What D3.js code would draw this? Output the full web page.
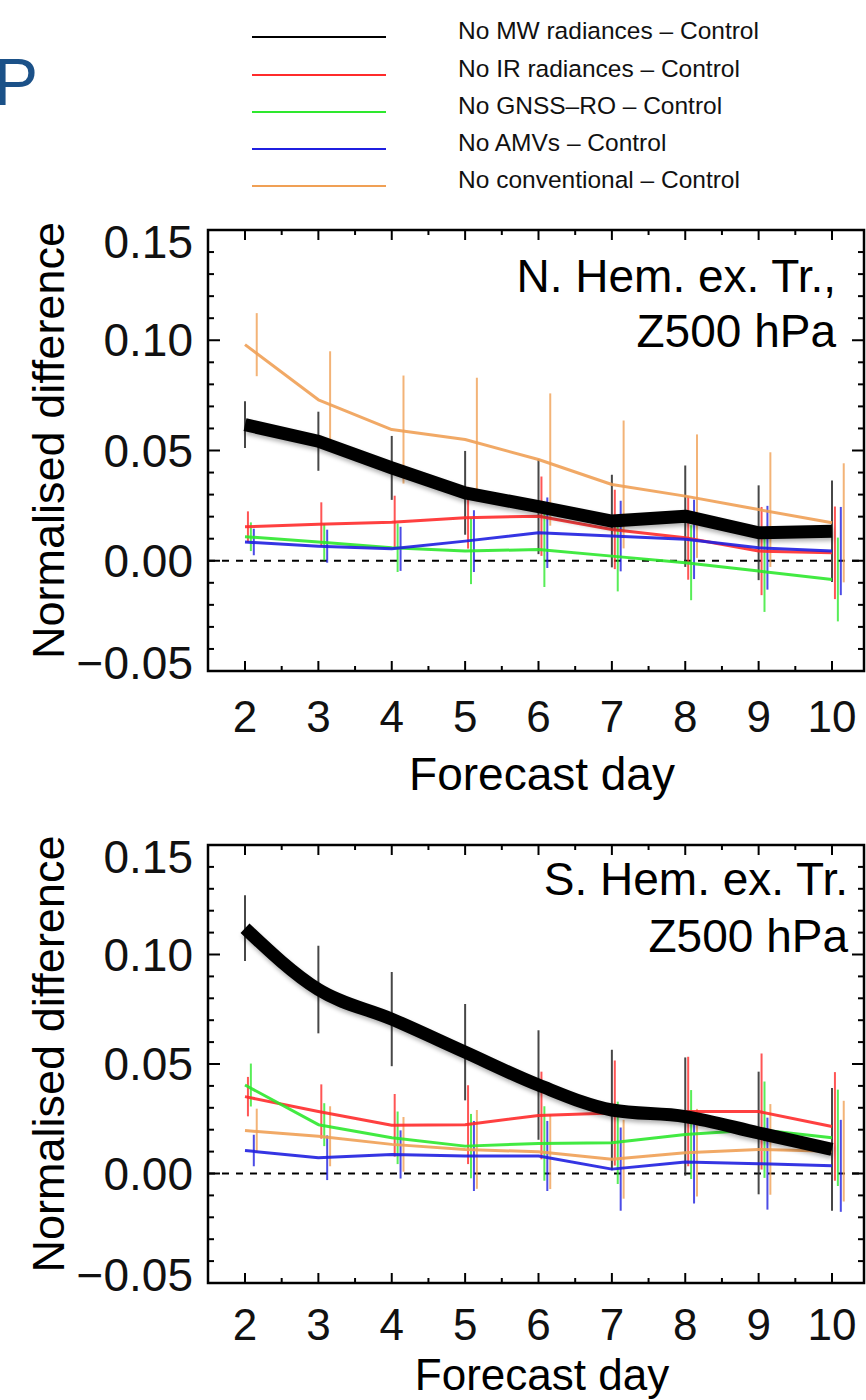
<!DOCTYPE html>
<html>
<head>
<meta charset="utf-8">
<script src="https://cdn.jsdelivr.net/npm/d3@7/dist/d3.min.js"></script>
<style>
  html, body { margin: 0; padding: 0; background: #fff; }
  svg { display: block; font-family: "Liberation Sans", Arial, Helvetica, sans-serif; }
</style>
</head>
<body>
<svg id="chart" width="866" height="1400"></svg>
<script>
// ---------------- DATA ----------------
const days = [2, 3, 4, 5, 6, 7, 8, 9, 10];
const seriesNames = [
  "No MW radiances \u2013 Control",
  "No IR radiances \u2013 Control",
  "No GNSS\u2013RO \u2013 Control",
  "No AMVs \u2013 Control",
  "No conventional \u2013 Control"
];
const seriesColors = ["#000000", "#ff2b2b", "#2ee82e", "#1f1fe0", "#f0a055"];
const yTickValues = [-0.05, 0.00, 0.05, 0.10, 0.15];
const yTickLabels = ["\u22120.05", "0.00", "0.05", "0.10", "0.15"];
const xTickLabels = ["2", "3", "4", "5", "6", "7", "8", "9", "10"];

// N. Hem. ex. Tropics, Z500
const nhMW   = [0.0617, 0.0542, 0.0421, 0.0308, 0.0245, 0.0180, 0.0202, 0.0127, 0.0134];
const nhIR   = [0.0154, 0.0165, 0.0175, 0.0195, 0.0202, 0.0142, 0.0104, 0.0044, 0.0036];
const nhGNSS = [0.0109, 0.0085, 0.0059, 0.0044, 0.0051, 0.0021, -0.0009, -0.0047, -0.0085];
const nhAMV  = [0.0085, 0.0066, 0.0054, 0.0089, 0.0127, 0.0112, 0.0097, 0.0059, 0.0044];
const nhCONV = [0.0980, 0.0730, 0.0595, 0.0550, 0.0459, 0.0346, 0.0293, 0.0232, 0.0172];
const nhMWerr   = [0.0106, 0.0134, 0.0145, 0.0190, 0.0215, 0.0210, 0.0230, 0.0215, 0.0230];
const nhIRerr   = [0.0070, 0.0100, 0.0120, 0.0140, 0.0180, 0.0180, 0.0190, 0.0200, 0.0210];
const nhGNSSerr = [0.0065, 0.0083, 0.0110, 0.0150, 0.0170, 0.0160, 0.0170, 0.0185, 0.0190];
const nhAMVerr  = [0.0060, 0.0075, 0.0100, 0.0140, 0.0160, 0.0160, 0.0180, 0.0190, 0.0200];
const nhCONVerr = [0.0143, 0.0220, 0.0245, 0.0280, 0.0300, 0.0290, 0.0280, 0.0260, 0.0270];

// S. Hem. ex. Tropics, Z500
const shMW   = [0.1120, 0.0840, 0.0705, 0.0554, 0.0404, 0.0290, 0.0260, 0.0185, 0.0110];
const shIR   = [0.0351, 0.0283, 0.0220, 0.0223, 0.0265, 0.0276, 0.0283, 0.0283, 0.0215];
const shGNSS = [0.0404, 0.0223, 0.0163, 0.0125, 0.0137, 0.0140, 0.0178, 0.0200, 0.0163];
const shAMV  = [0.0105, 0.0072, 0.0087, 0.0080, 0.0080, 0.0020, 0.0053, 0.0045, 0.0035];
const shCONV = [0.0196, 0.0170, 0.0133, 0.0110, 0.0099, 0.0065, 0.0095, 0.0110, 0.0102];
const shMWerr   = [0.0150, 0.0200, 0.0215, 0.0220, 0.0250, 0.0275, 0.0270, 0.0280, 0.0280];
const shIRerr   = [0.0090, 0.0124, 0.0143, 0.0180, 0.0200, 0.0240, 0.0250, 0.0265, 0.0248];
const shGNSSerr = [0.0098, 0.0098, 0.0120, 0.0147, 0.0170, 0.0188, 0.0203, 0.0220, 0.0220];
const shAMVerr  = [0.0072, 0.0102, 0.0110, 0.0160, 0.0160, 0.0190, 0.0190, 0.0210, 0.0210];
const shCONVerr = [0.0100, 0.0137, 0.0125, 0.0180, 0.0170, 0.0180, 0.0200, 0.0207, 0.0230];

const panelTitles = [["N. Hem. ex. Tr.,", "Z500 hPa"], ["S. Hem. ex. Tr.", "Z500 hPa"]];
const xTitle = "Forecast day";
const yTitle = "Normalised difference";

// ---------------- LAYOUT ----------------
const svg = d3.select("#chart");
const frameLeft = 208, frameRight = 864;
const panels = [
  { top: 230, bottom: 671, values: [nhMW, nhIR, nhGNSS, nhAMV, nhCONV],
    errs: [nhMWerr, nhIRerr, nhGNSSerr, nhAMVerr, nhCONVerr], smoothBlack: false,
    titleX: 836, titleY: [292, 347], xLabelDy: 61, xTitleY: 790, xTitleSize: 46 },
  { top: 845, bottom: 1283, values: [shMW, shIR, shGNSS, shAMV, shCONV],
    errs: [shMWerr, shIRerr, shGNSSerr, shAMVerr, shCONVerr], smoothBlack: true,
    titleX: 848, titleY: [895, 952], xLabelDy: 57, xTitleY: 1390, xTitleSize: 44 }
];

const defs = svg.append("defs");
defs.append("filter").attr("id", "soft").attr("x", "-10%").attr("y", "-10%")
  .attr("width", "120%").attr("height", "130%")
  .append("feGaussianBlur").attr("stdDeviation", 2);

// Partial slide title letter at the left edge (cut off in the original too)
svg.append("text").attr("x", -6).attr("y", 105)
  .attr("font-size", 66).attr("fill", "#1b5188").text("P");

// Legend
const legendRows = [37, 75, 112, 149, 186];
seriesNames.forEach((name, i) => {
  svg.append("line").attr("x1", 252).attr("x2", 386)
    .attr("y1", legendRows[i]).attr("y2", legendRows[i])
    .attr("stroke", seriesColors[i]).attr("stroke-width", 2);
  svg.append("text").attr("x", 458).attr("y", legendRows[i] + 2)
    .attr("font-size", 24.5).attr("fill", "#111").text(name);
});

const x = d3.scaleLinear().domain([2, 10]).range([245, 832]);
const seriesOffset = 0.04; // days, horizontal offset of error bars per series

panels.forEach((p, pi) => {
  const y = d3.scaleLinear().domain([-0.05, 0.15]).range([p.bottom, p.top]);
  const g = svg.append("g");

  // zero dashed line
  g.append("line").attr("x1", frameLeft).attr("x2", frameRight)
    .attr("y1", y(0)).attr("y2", y(0))
    .attr("stroke", "#000").attr("stroke-width", 2).attr("stroke-dasharray", "7,7");

  // error bars
  p.values.forEach((vals, si) => {
    const col = seriesColors[si];
    g.append("g").selectAll("line").data(days).join("line")
      .attr("x1", d => x(d + si * seriesOffset))
      .attr("x2", d => x(d + si * seriesOffset))
      .attr("y1", (d, i) => y(vals[i] - p.errs[si][i]))
      .attr("y2", (d, i) => y(vals[i] + p.errs[si][i]))
      .attr("stroke", si === 0 ? "#333" : col)
      .attr("stroke-opacity", si === 0 ? 0.9 : 0.8)
      .attr("stroke-width", 2);
  });

  // colored lines
  [1, 2, 3, 4].forEach(si => {
    const line = d3.line().x(d => x(d)).y((d, i) => y(p.values[si][i]));
    g.append("path").datum(days).attr("d", line)
      .attr("fill", "none").attr("stroke", seriesColors[si])
      .attr("stroke-width", 3).attr("stroke-opacity", 0.9)
      .attr("stroke-linejoin", "round");
  });

  // thick black line with soft shadow
  const bl = d3.line().x(d => x(d)).y((d, i) => y(p.values[0][i]))
    .curve(p.smoothBlack ? d3.curveMonotoneX : d3.curveLinear);
  g.append("path").datum(days).attr("d", bl)
    .attr("transform", "translate(1,3)")
    .attr("fill", "none").attr("stroke", "#000").attr("stroke-opacity", 0.3)
    .attr("stroke-width", 13).attr("filter", "url(#soft)");
  g.append("path").datum(days).attr("d", bl)
    .attr("fill", "none").attr("stroke", "#000").attr("stroke-width", 13)
    .attr("stroke-linejoin", "round");

  // frame
  g.append("rect").attr("x", frameLeft).attr("y", p.top)
    .attr("width", frameRight - frameLeft).attr("height", p.bottom - p.top)
    .attr("fill", "none").attr("stroke", "#000").attr("stroke-width", 2.5);

  // x ticks (bottom & top)
  const xMinor = d3.range(2.5, 10, 1);
  [[p.bottom, -1], [p.top, 1]].forEach(([yy, dir]) => {
    g.append("g").selectAll("line").data(days).join("line")
      .attr("x1", d => x(d)).attr("x2", d => x(d))
      .attr("y1", yy).attr("y2", yy + dir * 10)
      .attr("stroke", "#000").attr("stroke-width", 2);
    g.append("g").selectAll("line").data(xMinor).join("line")
      .attr("x1", d => x(d)).attr("x2", d => x(d))
      .attr("y1", yy).attr("y2", yy + dir * 5)
      .attr("stroke", "#000").attr("stroke-width", 2);
  });

  // y ticks (left & right)
  const yMinor = d3.range(-4, 15).map(k => k / 100).filter(v => Math.round(v * 100) % 5 !== 0);
  [[frameLeft, 1], [frameRight, -1]].forEach(([xx, dir]) => {
    g.append("g").selectAll("line").data(yTickValues).join("line")
      .attr("x1", xx).attr("x2", xx + dir * 12)
      .attr("y1", d => y(d)).attr("y2", d => y(d))
      .attr("stroke", "#000").attr("stroke-width", 2);
    g.append("g").selectAll("line").data(yMinor).join("line")
      .attr("x1", xx).attr("x2", xx + dir * 6)
      .attr("y1", d => y(d)).attr("y2", d => y(d))
      .attr("stroke", "#000").attr("stroke-width", 2);
  });

  // y tick labels (end labels nudged inward like the original)
  const yMax = d3.max(yTickValues), yMin = d3.min(yTickValues);
  g.append("g").selectAll("text").data(yTickValues).join("text")
    .attr("x", 193)
    .attr("y", d => y(d) + 16 + (d === yMax ? 12 : d === yMin ? -8 : 0))
    .attr("text-anchor", "end").attr("font-size", 46).attr("fill", "#111")
    .text((d, i) => yTickLabels[i]);

  // x tick labels
  g.append("g").selectAll("text").data(days).join("text")
    .attr("x", d => x(d)).attr("y", p.bottom + p.xLabelDy)
    .attr("text-anchor", "middle").attr("font-size", 44).attr("fill", "#111")
    .text((d, i) => xTickLabels[i]);

  // x title
  g.append("text").attr("x", 542).attr("y", p.xTitleY)
    .attr("text-anchor", "middle").attr("font-size", p.xTitleSize).attr("fill", "#000").text(xTitle);

  // y title
  const yc = (p.top + p.bottom) / 2 - 10;
  g.append("text").attr("transform", `translate(64,${yc}) rotate(-90)`)
    .attr("text-anchor", "middle").attr("font-size", 45).attr("fill", "#000").text(yTitle);

  // panel title
  panelTitles[pi].forEach((t, k) => {
    g.append("text").attr("x", p.titleX).attr("y", p.titleY[k])
      .attr("text-anchor", "end").attr("font-size", 46).attr("fill", "#000").text(t);
  });
});
</script>
</body>
</html>
